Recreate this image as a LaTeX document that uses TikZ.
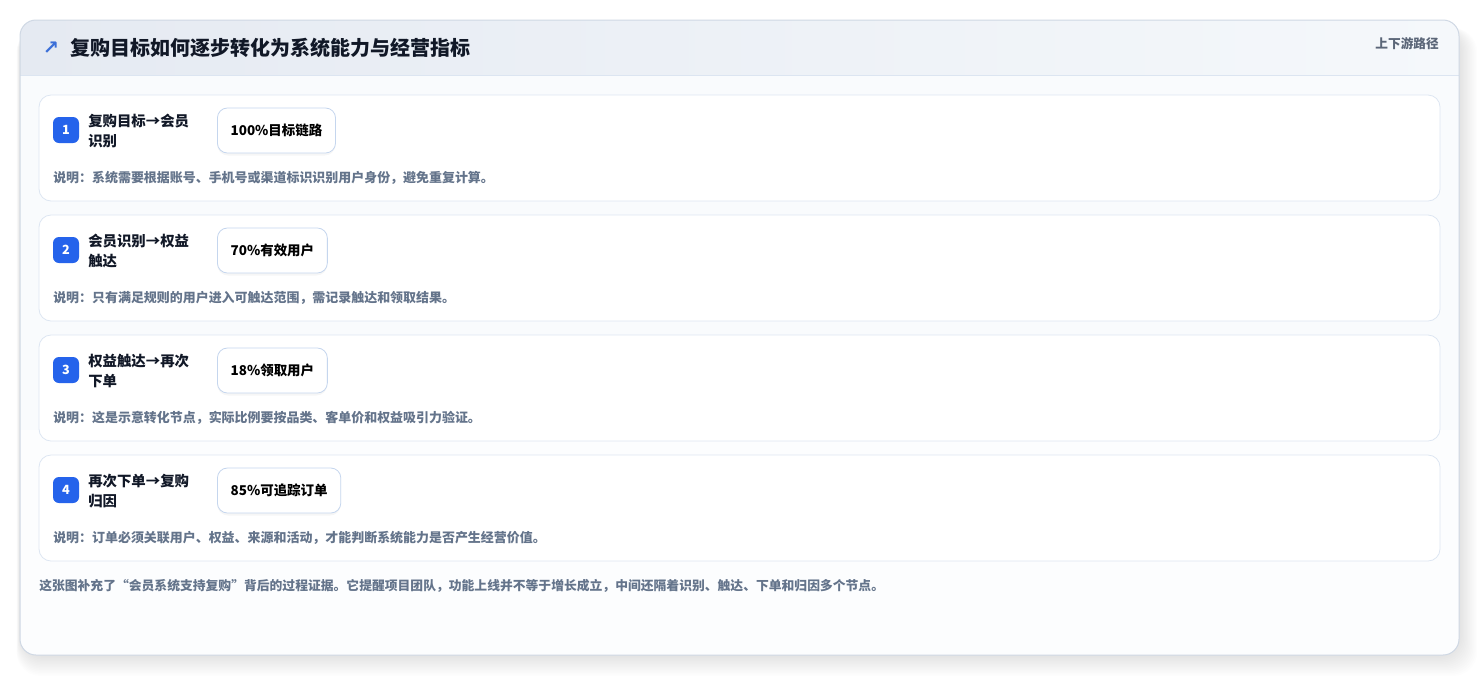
\documentclass[tikz,border=0pt]{standalone}
\usepackage{fontspec}
\setmainfont{Noto Sans CJK SC}
\newfontfamily\dejavu{DejaVu Sans}
\definecolor{pagebg}{HTML}{FFFFFF}
\definecolor{cardbg}{HTML}{F9FBFD}
\definecolor{cardline}{HTML}{CFD8E4}
\definecolor{hdrL}{HTML}{E5EAF2}
\definecolor{hdrR}{HTML}{F5F8FB}
\definecolor{hdrline}{HTML}{DCE5F1}
\definecolor{titlec}{HTML}{111827}
\definecolor{iconc}{HTML}{3B6FD8}
\definecolor{tagc}{HTML}{5B6678}
\definecolor{stepline}{HTML}{DDE6F2}
\definecolor{badgec}{HTML}{2563EB}
\definecolor{pillline}{HTML}{C5D6EE}
\definecolor{notec}{HTML}{64748B}
\tikzset{
  titletext/.style={font=\fontsize{15}{18}\selectfont\bfseries, text=titlec, inner sep=0pt, anchor=west},
  tagtext/.style={font=\fontsize{9.5}{12}\selectfont\bfseries, text=tagc, inner sep=0pt, anchor=east},
  stepcard/.style={draw=stepline, fill=white, rounded corners=9pt, minimum width=1050.75pt, minimum height=79.5pt, inner sep=0pt, line width=0.6pt},
  badge/.style={fill=badgec, text=white, rounded corners=4.5pt, minimum size=19.5pt, inner sep=0pt, font=\fontsize{9.5}{10}\selectfont\bfseries},
  steplabel/.style={font=\fontsize{10.8}{15}\selectfont\bfseries, text=titlec, align=left, inner sep=0pt, anchor=west},
  pill/.style={draw=pillline, fill=white, rounded corners=7.5pt, minimum height=33.75pt, inner xsep=9.9pt, inner ysep=0pt, font=\fontsize{10.1}{12}\selectfont\bfseries, text=black, anchor=west, line width=0.6pt},
  pillshadow/.style={fill=black, opacity=0.035, rounded corners=8pt, minimum height=33.75pt, inner xsep=9.9pt, inner ysep=0pt, font=\fontsize{10.1}{12}\selectfont\bfseries, text opacity=0, anchor=west},
  notetext/.style={font=\fontsize{9.72}{12}\selectfont\bfseries, text=notec, inner sep=0pt, anchor=west},
  foottext/.style={font=\fontsize{9.6}{12}\selectfont\bfseries, text=notec, inner sep=0pt, anchor=west},
}
\begin{document}
\begin{tikzpicture}[x=0.75pt,y=-0.75pt]
\useasboundingbox (0,0) rectangle (1480,676);
\fill[pagebg] (0,0) rectangle (1480,676);
% soft shadow of the main card
\foreach \r in {1,...,14}{
  \fill[black, opacity=0.006, rounded corners=18pt] (20-\r*0.25,28) rectangle (1459+\r*1.3,655+\r*1.5);
}
% main card
\fill[cardbg, rounded corners=12pt] (20,20) rectangle (1459,655);
\begin{scope}
  \clip[rounded corners=12pt] (20,20) rectangle (1459,655);
  \shade[left color=hdrL, right color=hdrR] (20,20) rectangle (1459,75);
  \fill[white, opacity=0.5] (20,430) rectangle (1459,655);
\end{scope}
\draw[hdrline, line width=0.75pt] (20,75) -- (1459,75);
\draw[cardline, line width=0.75pt, rounded corners=12pt] (20,20) rectangle (1459,655);
% header
\node[font=\dejavu\fontsize{14.5}{14}\selectfont\bfseries, text=iconc, inner sep=0pt] (icon) at (51,48) {↗};
\node[titletext] (title) at (70,48) {复购目标如何逐步转化为系统能力与经营指标};
\node[tagtext] (tag) at (1439,44) {上下游路径};
% steps
\foreach \i/\la/\lb/\p/\n in {
  1/复购目标→会员/识别/100\%目标链路/说明：系统需要根据账号、手机号或渠道标识识别用户身份，避免重复计算。,
  2/会员识别→权益/触达/70\%有效用户/说明：只有满足规则的用户进入可触达范围，需记录触达和领取结果。,
  3/权益触达→再次/下单/18\%领取用户/说明：这是示意转化节点，实际比例要按品类、客单价和权益吸引力验证。,
  4/再次下单→复购/归因/85\%可追踪订单/说明：订单必须关联用户、权益、来源和活动，才能判断系统能力是否产生经营价值。}{
  \pgfmathsetmacro{\yy}{95+120*(\i-1)}
  \node[stepcard] (card\i) at (739.5,\yy+53) {};
  \node[badge] (badge\i) at (66,\yy+35) {\i};
  \node[steplabel] (label\i) at (88,\yy+36) {\la\\\lb};
  \node[pillshadow] (pillsh\i) at (217,\yy+38) {\p};
  \node[pill] (pill\i) at (217,\yy+35.5) {\p};
  \node[notetext] (note\i) at (53,\yy+83) {\n};
}
\node[foottext] (foot) at (39,586) {这张图补充了“会员系统支持复购”背后的过程证据。它提醒项目团队，功能上线并不等于增长成立，中间还隔着识别、触达、下单和归因多个节点。};
\end{tikzpicture}
\end{document}
